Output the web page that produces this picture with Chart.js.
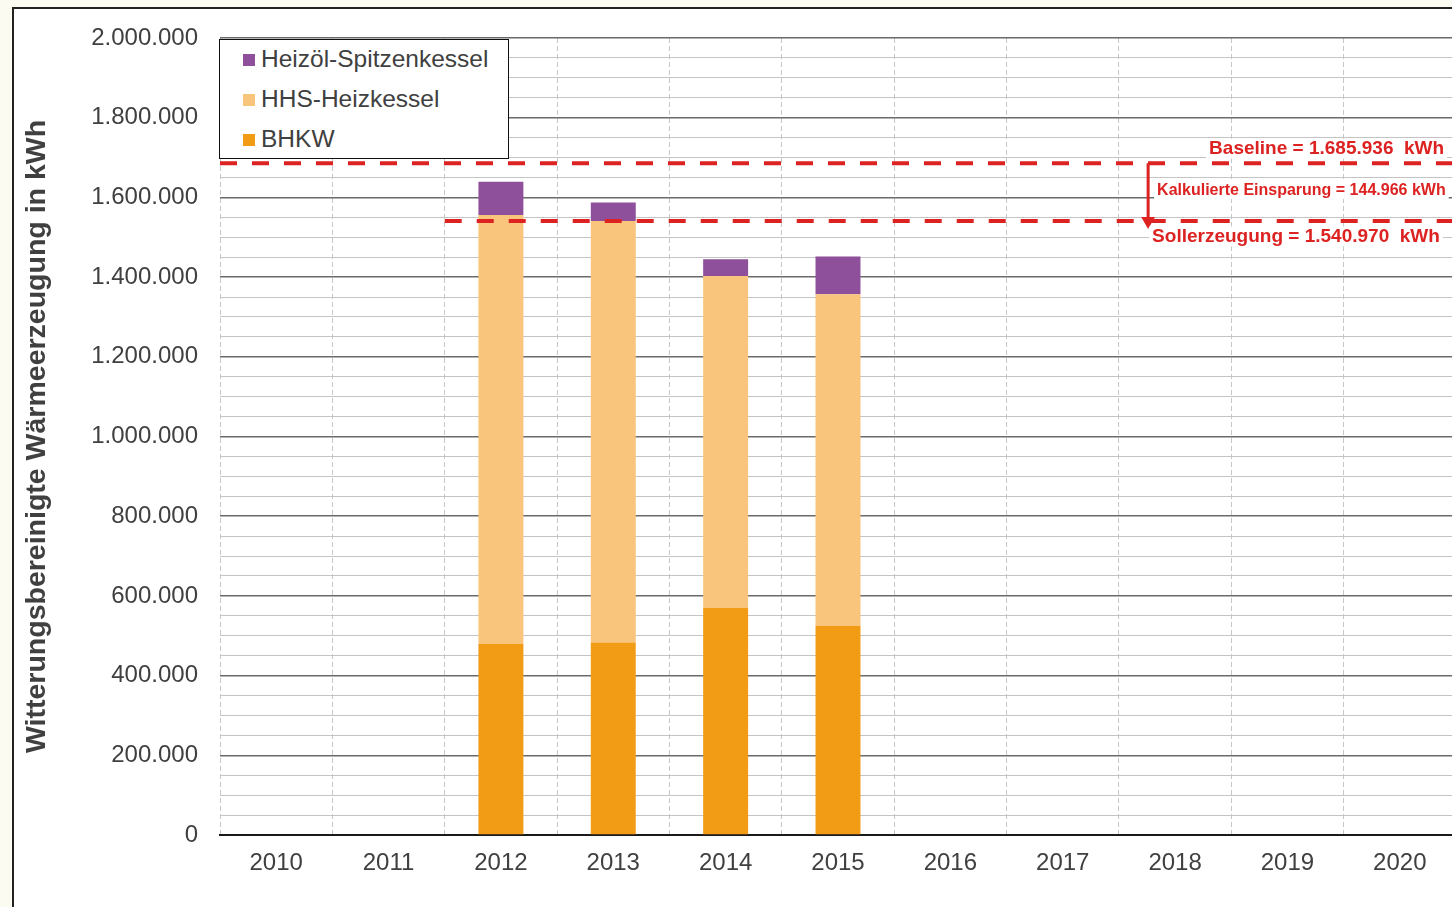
<!DOCTYPE html>
<html>
<head>
  <title>Witterungsbereinigte Wärmeerzeugung</title>
  <script src="https://cdn.jsdelivr.net/npm/chart.js@4.4.0/dist/chart.umd.min.js"></script>
  <style>
    html, body {
      margin: 0;
      padding: 0;
      overflow: hidden;
      background: #fcfbf2;
      font-family: "Liberation Sans", Arial, sans-serif;
    }
    #frame {
      position: absolute;
      left: 12px;
      top: 7px;
      width: 1500px;
      height: 950px;
      background: #fff;
      border-left: 2px solid #222;
      border-top: 2px solid #222;
    }
    #chart {
      position: absolute;
      left: 0;
      top: 0;
    }
    #legend {
      position: absolute;
      left: 219px;
      top: 39px;
      width: 288px;
      height: 118px;
      background: #fff;
      border: 1.5px solid #111;
      list-style-type: none;
      margin: 0;
      padding: 0;
    }
    .legend-item {
      position: absolute;
      left: 23px;
      height: 30px;
      line-height: 30px;
      font-size: 24.5px;
      color: #404040;
      white-space: nowrap;
    }
    .legend-item span {
      display: inline-block;
      width: 12px;
      height: 12px;
      margin-right: 6px;
      vertical-align: 1px;
    }
  </style>
</head>
<body>

<div id="frame"></div>
<canvas id="chart" width="1464" height="907"></canvas>
<ul id="legend"></ul>

<script>
  // values (kWh)
  const years = ['2010', '2011', '2012', '2013', '2014', '2015', '2016', '2017', '2018', '2019', '2020'];
  const bhkw    = [null, null, 479000, 483000, 570000, 525000, null, null, null, null, null];
  const hhs     = [null, null, 1077000, 1058000, 833000, 832000, null, null, null, null, null];
  const heizoel = [null, null, 83000, 46000, 42000, 95000, null, null, null, null, null];

  const baseline = 1685936;
  const soll = 1540970;
  const einsparung = baseline - soll;

  const seriesNames = ['BHKW', 'HHS-Heizkessel', 'Heizöl-Spitzenkessel'];
  const seriesColors = ['#f29b14', '#f9c47b', '#8e4f9b'];
  const red = '#dd2222';

  // where the arrow sits, in category units
  const arrowAt = 7.76;

  function fmt(v) {
    return String(Math.round(v)).replace(/\B(?=(\d{3})+(?!\d))/g, '.');
  }

  // legend, top to bottom like the original
  const legend = document.getElementById('legend');
  [2, 1, 0].forEach(function (i, row) {
    let li = document.createElement('li');
    li.className = 'legend-item';
    li.style.top = (4 + row * 40) + 'px';
    li.innerHTML = '<span style="background:' + seriesColors[i] + '"></span>' + seriesNames[i];
    legend.appendChild(li);
  });

  const notes = {
    id: 'notes',
    afterDatasetsDraw(chart) {
      const ctx = chart.ctx;
      const ax = chart.scales.xl.getPixelForValue(arrowAt);
      const yb = chart.scales.yl.getPixelForValue(baseline);
      const ys = chart.scales.yl.getPixelForValue(soll);

      function note(text, x, y, size) {
        ctx.font = 'bold ' + size + 'px "Liberation Sans", Arial, sans-serif';
        ctx.textBaseline = 'middle';
        ctx.textAlign = 'left';
        let w = ctx.measureText(text).width;
        ctx.fillStyle = '#fff';
        ctx.fillRect(x - 3, y - size / 2 - 1, w + 6, size + 1);
        ctx.fillStyle = red;
        ctx.fillText(text, x, y);
      }

      ctx.save();
      note('Baseline = ' + fmt(baseline) + '  kWh', ax + 61, yb - 14, 19);
      note('Kalkulierte Einsparung = ' + fmt(einsparung) + ' kWh', ax + 9, (yb + ys) / 2 - 1, 16);
      note('Sollerzeugung = ' + fmt(soll) + '  kWh', ax + 4, ys + 16, 19);
      ctx.restore();
    }
  };

  const barSet = (i, data) => ({
    label: seriesNames[i],
    data: data,
    backgroundColor: seriesColors[i],
    grouped: false,
    barPercentage: 0.4,
    categoryPercentage: 1,
    order: 2
  });

  const refLine = (label, from, value) => ({
    type: 'line',
    label: label,
    xAxisID: 'xl',
    yAxisID: 'yl',
    data: [{x: from, y: value}, {x: 10.5, y: value}],
    borderColor: red,
    borderWidth: 4,
    borderDash: [17, 15],
    pointRadius: 0,
    order: 1
  });

  new Chart(document.getElementById('chart').getContext('2d'), {
    type: 'bar',
    data: {
      labels: years,
      datasets: [
        barSet(0, bhkw),
        barSet(1, hhs),
        barSet(2, heizoel),
        refLine('Baseline', -0.5, baseline),
        refLine('Sollerzeugung', 1.5, soll),
        {
          type: 'line',
          label: 'Einsparung',
          xAxisID: 'xl',
          yAxisID: 'yl',
          data: [{x: arrowAt, y: baseline}, {x: arrowAt, y: soll}],
          borderColor: red,
          backgroundColor: red,
          borderWidth: 3,
          pointStyle: 'triangle',
          pointRotation: 180,
          pointRadius: [0, 8],
          pointBorderWidth: 0,
          order: 0
        }
      ]
    },
    options: {
      responsive: false,
      animation: false,
      layout: {padding: {left: 18, top: 38, right: 0, bottom: 0}},
      plugins: {
        legend: {display: false},
        tooltip: {enabled: false}
      },
      scales: {
        x: {
          stacked: true,
          grid: {color: '#c6c6c6', lineWidth: 1, drawTicks: false, offset: true},
          border: {color: '#1a1a1a', width: 2, dash: [5, 3]},
          ticks: {color: '#404040', font: {size: 24, family: '"Liberation Sans", Arial'}, padding: 14},
          afterFit: s => { s.height = 72; }
        },
        y: {
          stacked: true,
          min: 0,
          max: 2000000,
          grid: {
            drawTicks: false,
            color: c => (c.tick && c.tick.value % 200000 === 0) ? '#6a6a6a' : '#c4c4c4',
            lineWidth: c => (c.tick && c.tick.value % 200000 === 0) ? 1.5 : 1
          },
          border: {display: false},
          ticks: {
            stepSize: 50000,
            autoSkip: false,
            color: '#404040',
            font: {size: 24, family: '"Liberation Sans", Arial'},
            padding: 22,
            callback: v => (v % 200000 === 0) ? fmt(v) : ''
          },
          title: {
            display: true,
            text: 'Witterungsbereinigte Wärmeerzeugung in kWh',
            color: '#404040',
            font: {size: 28.5, weight: 'bold', family: '"Liberation Sans", Arial'},
            padding: {top: 2, bottom: 0}
          },
          afterFit: s => { s.width = 202; }
        },
        xl: {type: 'linear', min: -0.5, max: 10.5, offset: false, display: false},
        yl: {type: 'linear', min: 0, max: 2000000, offset: false, display: false}
      }
    },
    plugins: [notes]
  });
</script>

</body>
</html>
